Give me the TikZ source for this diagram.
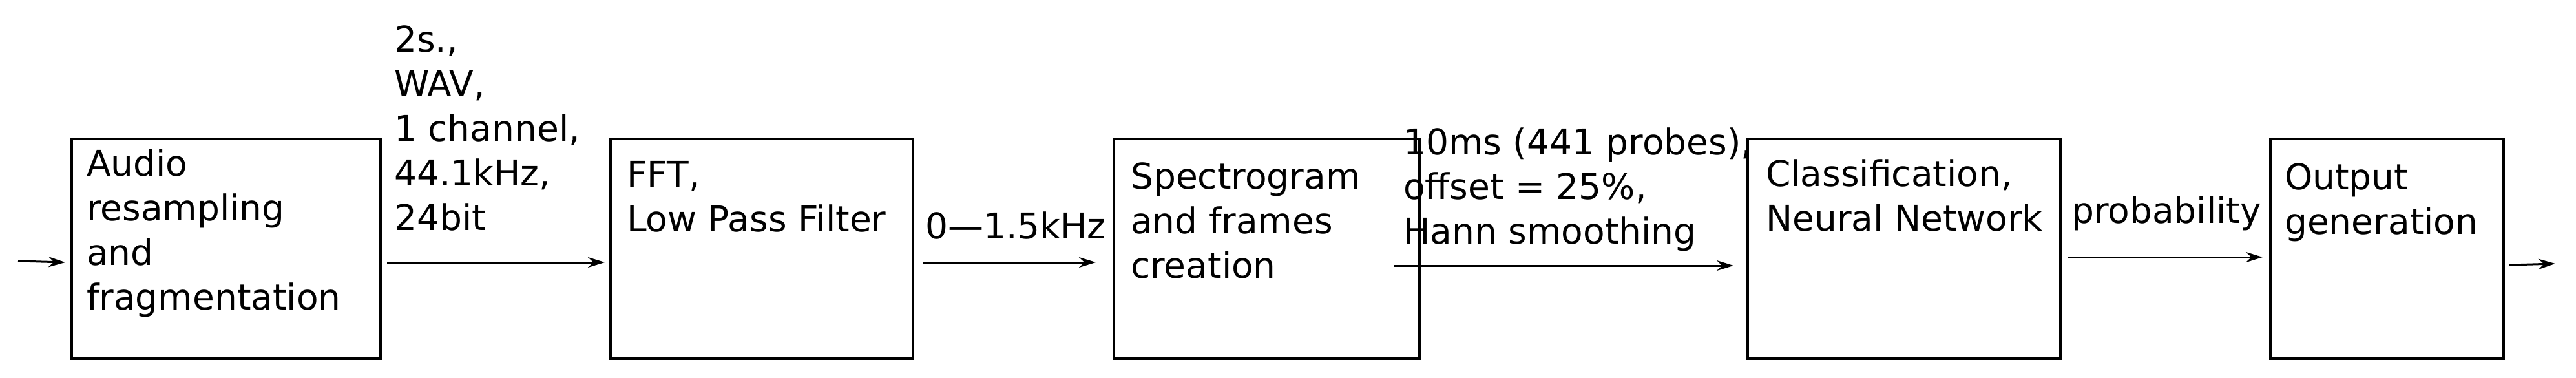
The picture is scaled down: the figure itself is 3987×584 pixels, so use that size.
\documentclass[tikz,border=0pt]{standalone}
\usepackage{fontspec}
\setmainfont{DejaVu Sans}
\usetikzlibrary{arrows.meta}
\begin{document}
\begin{tikzpicture}[x=1pt,y=-1pt,
  blk/.style={draw,line width=4pt,anchor=north west,inner sep=0pt},
  txt/.style={anchor=base west,inner sep=0pt,align=left,font=\fontsize{55}{69}\selectfont},
  conn/.style={line width=3pt,-{Stealth[length=26pt,width=16pt]}}]
\useasboundingbox (0,0) rectangle (3987,584);
\node[blk,minimum width=478pt,minimum height=340pt] (b1) at (109,213) {};
\node[blk,minimum width=468pt,minimum height=340pt] (b2) at (943,213) {};
\node[blk,minimum width=473pt,minimum height=340pt] (b3) at (1722,213) {};
\node[blk,minimum width=484pt,minimum height=340pt] (b4) at (2703,213) {};
\node[blk,minimum width=361pt,minimum height=340pt] (b5) at (3512,213) {};
\node[txt] (t1) at (134,272) {Audio};
\node[txt] (t1b) at (134,341) {resampling};
\node[txt] (t1c) at (134,410) {and};
\node[txt] (t1d) at (134,479) {fragmentation};
\node[txt] (t2) at (970,289) {FFT,};
\node[txt] (t2b) at (970,358) {Low Pass Filter};
\node[txt] (t3) at (1750,292) {Spectrogram};
\node[txt] (t3b) at (1750,361) {and frames};
\node[txt] (t3c) at (1750,430) {creation};
\node[txt] (t4) at (2733,288) {Classification,};
\node[txt] (t4b) at (2733,357) {Neural Network};
\node[txt] (t5) at (3536,293) {Output};
\node[txt] (t5b) at (3536,362) {generation};
\node[txt] (l1) at (610,80) {2s.,};
\node[txt] (l1b) at (610,149) {WAV,};
\node[txt] (l1c) at (610,218) {1 channel,};
\node[txt] (l1d) at (610,287) {44.1kHz,};
\node[txt] (l1e) at (610,356) {24bit};
\node[txt] (l2) at (1432,369) {0—1.5kHz};
\node[txt] (l3) at (2172,239) {10ms (441 probes),};
\node[txt] (l3b) at (2172,308) {offset = 25\%,};
\node[txt] (l3c) at (2172,377) {Hann smoothing};
\node[txt] (l4) at (3206,345) {probability};
\coordinate (in) at (28,404);
\coordinate (out) at (3955,408);
\draw[conn] (in) -- ([yshift=-21pt,xshift=-8pt]b1.west);
\draw[conn] ([yshift=-21pt,xshift=8pt]b1.east) -- ([yshift=-21pt,xshift=-7pt]b2.west);
\draw[conn] ([yshift=-21pt,xshift=13pt]b2.east) -- ([yshift=-21pt,xshift=-26pt]b3.west);
\draw[conn] ([yshift=-26pt,xshift=-41pt]b3.east) -- ([yshift=-26pt,xshift=-20pt]b4.west);
\draw[conn] ([yshift=-13pt,xshift=10pt]b4.east) -- ([yshift=-13pt,xshift=-10pt]b5.west);
\draw[conn] ([yshift=-25pt,xshift=7pt]b5.east) -- (out);
\end{tikzpicture}
\end{document}
